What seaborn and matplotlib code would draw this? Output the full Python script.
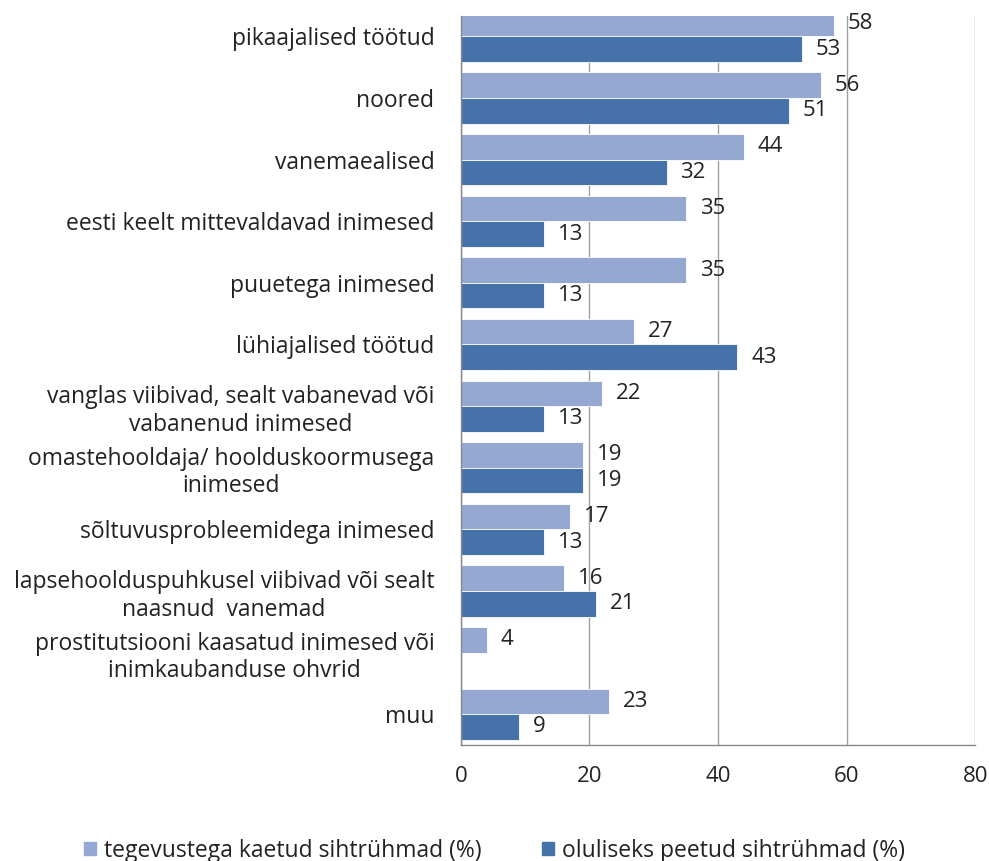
import pandas as pd
import numpy as np
import matplotlib
matplotlib.use("Agg")
import matplotlib.pyplot as plt
import seaborn as sns

# data
categories = [
    "pikaajalised töötud",
    "noored",
    "vanemaealised",
    "eesti keelt mittevaldavad inimesed",
    "puuetega inimesed",
    "lühiajalised töötud",
    "vanglas viibivad, sealt vabanevad või\nvabanenud inimesed",
    "omastehooldaja/ hoolduskoormusega\ninimesed",
    "sõltuvusprobleemidega inimesed",
    "lapsehoolduspuhkusel viibivad või sealt\nnaasnud  vanemad",
    "prostitutsiooni kaasatud inimesed või\ninimkaubanduse ohvrid",
    "muu",
]
covered = [58, 56, 44, 35, 35, 27, 22, 19, 17, 16, 4, 23]
important = [53, 51, 32, 13, 13, 43, 13, 19, 13, 21, np.nan, 9]
series_names = ["tegevustega kaetud sihtrühmad (%)", "oluliseks peetud sihtrühmad (%)"]
x_ticks = [0, 20, 40, 60, 80]

colors = ["#94A8D1", "#4573A9"]

df = pd.DataFrame({
    "category": categories * 2,
    "value": covered + important,
    "series": [series_names[0]] * len(categories) + [series_names[1]] * len(categories),
})

sns.set_style("white")
plt.rcParams["font.family"] = ["Open Sans", "DejaVu Sans"]
fs = 16.5    # category / legend text
fs_num = 16  # value labels and x ticks

fig = plt.figure(figsize=(9.89, 8.61), dpi=100)
ax = fig.add_axes([0.466, 0.1347, 0.52, 0.8467])

sns.barplot(data=df, x="value", y="category", hue="series", order=categories,
            hue_order=series_names, palette=colors, orient="h", width=0.83,
            saturation=1, ax=ax, legend=False, edgecolor="white", linewidth=0.6)

for cont in ax.containers:
    labels = ["" if np.isnan(v) else f"{v:.0f}" for v in cont.datavalues]
    ax.bar_label(cont, labels=labels, padding=10, fontsize=fs_num, color="#222222")

ax.set_xlim(0, 80)
ax.set_xticks(x_ticks)
ax.set_ylim(len(categories) - 0.5, -0.33)
ax.set_yticks(np.arange(len(categories)))
ax.set_yticklabels(categories, fontsize=fs, multialignment="center", color="#222222")
ax.set_yticks(np.arange(len(categories)) + 0.5, minor=True)
ax.tick_params(axis="y", which="major", length=0, pad=19)
ax.tick_params(axis="y", which="minor", length=7, color="#888888", width=1)
ax.tick_params(axis="x", length=7, color="#888888", width=1, labelsize=fs_num,
               labelcolor="#222222", pad=8)
ax.set_xlabel("")
ax.set_ylabel("")
ax.xaxis.grid(True, color="#a0a0a0", linewidth=1)
ax.set_axisbelow(True)

for s in ["top", "right"]:
    ax.spines[s].set_visible(False)
for s in ["left", "bottom"]:
    ax.spines[s].set_color("#888888")
    ax.spines[s].set_linewidth(1)

handles = [plt.Rectangle((0, 0), 1, 1, color=c) for c in colors]
fig.legend(handles, series_names, loc="center", bbox_to_anchor=(0.5, 0.012),
           ncol=2, frameon=False, fontsize=fs, handlelength=0.55, handleheight=0.55,
           handletextpad=0.35, columnspacing=2.6, labelcolor="#222222")

fig.savefig("out.png", dpi=100)
